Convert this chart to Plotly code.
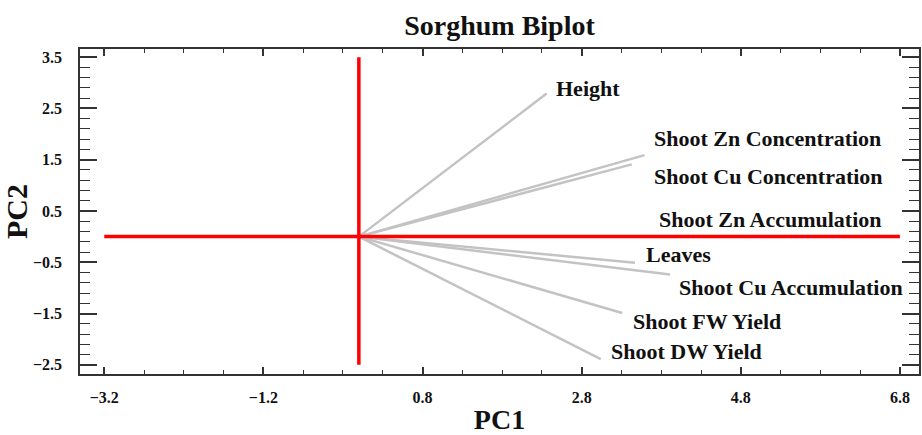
import plotly.graph_objects as go

# Loading vectors of the sorghum PCA (PC1, PC2)
variables = [
    "Height",
    "Shoot Zn Concentration",
    "Shoot Cu Concentration",
    "Shoot Zn Accumulation",
    "Leaves",
    "Shoot Cu Accumulation",
    "Shoot FW Yield",
    "Shoot DW Yield",
]
pc1 = [2.36, 3.59, 3.43, 3.70, 3.47, 3.91, 3.31, 3.04]
pc2 = [2.79, 1.59, 1.41, 0.00, -0.51, -0.74, -1.49, -2.39]

# Extent of the red reference cross through the origin
cross_x = [-3.2, 6.8]
cross_y = [-2.5, 3.5]

# Axis ticks
x_ticks = [-3.2, -1.2, 0.8, 2.8, 4.8, 6.8]
y_ticks = [-2.5, -1.5, -0.5, 0.5, 1.5, 2.5, 3.5]

FONT = "Liberation Serif, Times New Roman, serif"
INK = "#111111"

# Label offsets (pixels) relative to each vector tip
label_shift = {
    "Height": (7, 5),
    "Shoot Zn Concentration": (7, 17),
    "Shoot Cu Concentration": (20, -12),
    "Shoot Zn Accumulation": (4, 17),
    "Leaves": (9, 8),
    "Shoot Cu Accumulation": (7, -13),
    "Shoot FW Yield": (9, -8),
    "Shoot DW Yield": (8, 8),
}

fig = go.Figure()

for name, x, y in zip(variables, pc1, pc2):
    fig.add_trace(go.Scatter(
        x=[0, x], y=[0, y], mode="lines",
        line=dict(color="#c3c3c3", width=2.5),
        hoverinfo="skip", showlegend=False,
    ))

fig.add_trace(go.Scatter(
    x=cross_x, y=[0, 0], mode="lines",
    line=dict(color="#ff0000", width=3.5), showlegend=False, hoverinfo="skip",
))
fig.add_trace(go.Scatter(
    x=[0, 0], y=cross_y, mode="lines",
    line=dict(color="#ff0000", width=3.5), showlegend=False, hoverinfo="skip",
))

for name, x, y in zip(variables, pc1, pc2):
    dx, dy = label_shift[name]
    fig.add_annotation(
        x=x, y=y, text="<b>%s</b>" % name, showarrow=False,
        xanchor="left", yanchor="middle", xshift=dx, yshift=dy,
        font=dict(family=FONT, size=22, color=INK),
    )

axis_common = dict(
    showgrid=False, zeroline=False, showline=True, mirror="allticks",
    linecolor="#333333", linewidth=1.5, ticks="inside", tickcolor="#333333",
    tickwidth=1.5, tickfont=dict(family=FONT, size=16, color=INK),
)

fig.update_xaxes(
    range=[-3.505, 7.04], tickvals=x_ticks,
    ticktext=["<b>%s</b>" % ("%.1f" % v).replace("-", "\u2212") for v in x_ticks],
    ticklen=7, ticklabelstandoff=8,
    minor=dict(tick0=-3.2, dtick=0.5, ticks="inside", ticklen=4,
               tickcolor="#333333", tickwidth=1.2),
    title=dict(text="<b>PC1</b>", font=dict(family=FONT, size=28, color=INK),
               standoff=8),
    **axis_common,
)
fig.update_yaxes(
    range=[-2.68, 3.66], tickvals=y_ticks,
    ticktext=["<b>%s</b>" % ("%.1f" % v).replace("-", "\u2212") for v in y_ticks],
    ticklen=17, ticklabelstandoff=13,
    minor=dict(tick0=-2.5, dtick=0.2, ticks="inside", ticklen=10,
               tickcolor="#333333", tickwidth=1.2),
    title=dict(text="<b>PC2</b>", font=dict(family=FONT, size=30, color=INK),
               standoff=1),
    **axis_common,
)

fig.update_layout(
    width=922, height=435,
    margin=dict(l=80, r=1, t=49, b=59),
    paper_bgcolor="white", plot_bgcolor="white",
    title=dict(text="<b>Sorghum Biplot</b>", x=0.5, xref="paper",
               y=1 - 25 / 435, yref="container", yanchor="middle",
               font=dict(family=FONT, size=28, color=INK)),
)

fig.write_html("out.html")
